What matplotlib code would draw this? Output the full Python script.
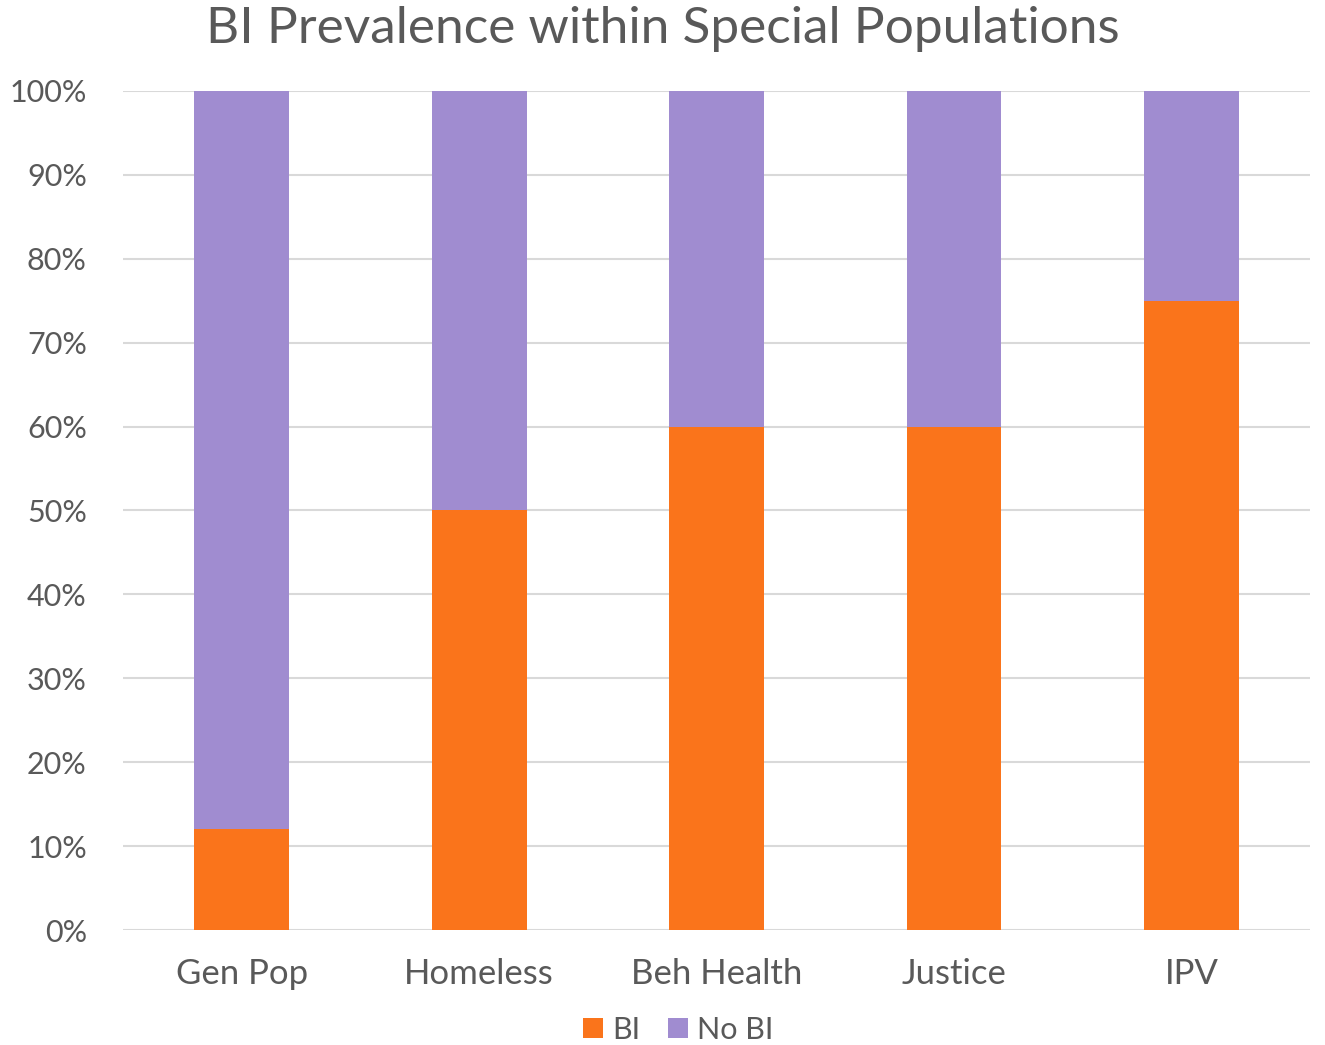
import numpy as np
import matplotlib.pyplot as plt
from matplotlib.ticker import PercentFormatter

categories = ["Gen Pop", "Homeless", "Beh Health", "Justice", "IPV"]
bi = [12, 50, 60, 60, 75]
no_bi = [88, 50, 40, 40, 25]

orange = "#FA741B"
purple = "#A08CD0"
txt = "#595959"

plt.rcParams['font.family'] = ['Lato', 'DejaVu Sans']

fig = plt.figure(figsize=(13.25, 10.45), dpi=100)
ax = fig.add_axes([0.0928, 0.110, 0.896, 0.803])

x = np.arange(len(categories))
ax.bar(x, bi, width=0.4, color=orange, label="BI", zorder=3)
ax.bar(x, no_bi, width=0.4, bottom=bi, color=purple, label="No BI", zorder=3)

ax.set_xlim(-0.5, len(categories) - 0.5)
ax.set_ylim(0, 100)
ax.set_yticks(np.arange(0, 101, 10))
ax.yaxis.set_major_formatter(PercentFormatter(decimals=0))
ax.set_xticks(x)
ax.set_xticklabels(categories)
ax.tick_params(axis='y', length=0, labelsize=22, colors=txt, pad=26)
ax.tick_params(axis='x', length=0, labelsize=25, colors=txt, pad=20)
ax.grid(axis='y', color='#D9D9D9', linewidth=1.5, zorder=0)
for s in ax.spines.values():
    s.set_visible(False)

fig.suptitle("BI Prevalence within Special Populations", fontsize=37, color=txt, y=0.994, va='top')
fig.legend(loc='lower center', bbox_to_anchor=(0.512, -0.025), ncol=2, frameon=False,
           fontsize=22, handlelength=0.65, handleheight=0.65, handletextpad=0.3,
           columnspacing=0.9, labelcolor=txt)

fig.savefig("out.png", dpi=100)
